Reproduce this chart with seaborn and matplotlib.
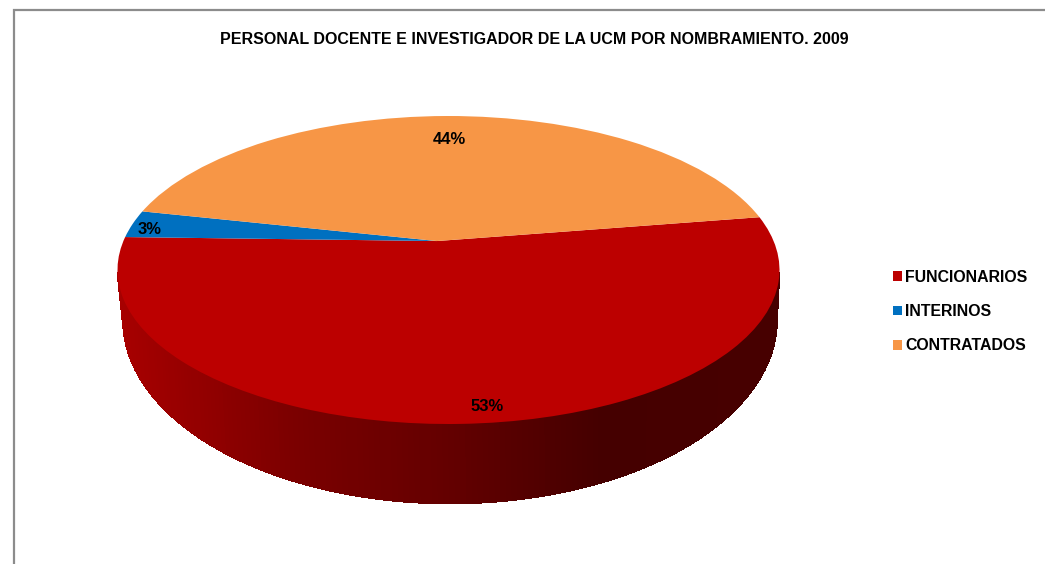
import numpy as np
import matplotlib
matplotlib.use("Agg")
import matplotlib.pyplot as plt
import seaborn as sns
from matplotlib.collections import PolyCollection
from matplotlib.patches import Patch
from matplotlib.path import Path
from matplotlib.transforms import Affine2D, Transform

# ---- data ----
categories = ["FUNCIONARIOS", "INTERINOS", "CONTRATADOS"]
shares = [53, 3, 44]
title_text = "PERSONAL DOCENTE E INVESTIGADOR DE LA UCM POR NOMBRAMIENTO. 2009"

# ---- style ----
sns.set_theme(style="white")
plt.rcParams["font.family"] = ["Liberation Sans", "DejaVu Sans"]
palette = sns.color_palette(["#BC0000", "#0070C0", "#F79646"])

FW, FH = 1045, 564
fig = plt.figure(figsize=(FW / 100, FH / 100), dpi=100, facecolor="white")
ax = fig.add_axes([0, 0, 1, 1])


class PerspectiveDisk(Transform):
    """Projective map of the unit disk onto itself that moves the pie apex."""
    input_dims = output_dims = 2
    is_separable = False
    has_inverse = False
    apex = np.array([-0.035, 0.188])

    def transform_non_affine(self, values):
        q = np.asarray(values, float)
        p = self.apex
        g = 1.0 / np.sqrt(1 - p @ p)
        d = q @ p
        return (p[None, :] + q / g + (g / (1 + g) * d)[:, None] * p[None, :]) / (1 + d)[:, None]

    def transform_path_non_affine(self, path):
        return Path(self.transform_non_affine(path.vertices), path.codes)


wedges, _, autotexts = ax.pie(
    shares, colors=palette, startangle=9.0, counterclock=False,
    autopct=lambda v: f"{v:.0f}%", wedgeprops={"linewidth": 0, "zorder": 2},
    textprops={"fontsize": 11.9, "fontweight": "bold", "color": "black", "zorder": 5},
)
ax.set_aspect("auto")
ax.set_xlim(0, FW)
ax.set_ylim(FH, 0)
ax.axis("off")

# top face: circle -> perspective ellipse in figure pixels
top_cx, top_cy, top_rx, top_ry = 448.5, 270, 331, 154
bot_cx, bot_cy, bot_rx, bot_ry = 450, 320, 327, 183.5
face = PerspectiveDisk() + Affine2D().scale(top_rx, -top_ry).translate(top_cx, top_cy) + ax.transData
for w in wedges:
    w.set_transform(face)

# extruded side of the pie with its horizontal shading
t = np.radians(np.linspace(181, 359, 179))
tx = top_cx + top_rx * np.cos(t)
ty = top_cy - top_ry * np.sin(t)
bx = bot_cx + bot_rx * np.cos(t)
by = bot_cy - bot_ry * np.sin(t)
quads, shade = [], []
stops_x = [120, 300, 450, 600, 780]
stops_r = [0.66, 0.48, 0.39, 0.27, 0.28]
for i in range(len(t) - 1):
    quads.append([(tx[i], ty[i]), (tx[i + 1], ty[i + 1]), (bx[i + 1], by[i + 1]), (bx[i], by[i])])
    r = np.interp(0.5 * (bx[i] + bx[i + 1]), stops_x, stops_r)
    shade.append((r, 0, 0))
ax.add_collection(PolyCollection(quads, facecolors=shade, edgecolors=shade, linewidths=0.5,
                                 antialiaseds=False, zorder=1))

# percentage labels
for txt, pos in zip(autotexts, [(487, 406.5), (150, 229.5), (449, 139.5)]):
    txt.set_position(pos)
    txt.set_ha("center")
    txt.set_va("center")

# chart frame
ax.plot([13.5, 13.5, FW], [FH, 10, 10], color="#8c8c8c", lw=1.6, zorder=0, solid_joinstyle="miter", clip_on=True)

ax.text(534, 39, title_text, ha="center", va="center", fontsize=11.5, fontweight="bold", color="black")

handles = [Patch(facecolor=c, edgecolor="none") for c in palette]
ax.legend(
    handles, categories, loc="center left", bbox_to_anchor=(893 / FW, 1 - 311.5 / FH),
    bbox_transform=fig.transFigure, frameon=False, borderpad=0, borderaxespad=0,
    handlelength=0.57, handleheight=0.57, handletextpad=0.19, labelspacing=1.22,
    prop={"size": 11.4, "weight": "bold"}, labelcolor="black",
)

fig.savefig("out.png", dpi=100, facecolor="white")
